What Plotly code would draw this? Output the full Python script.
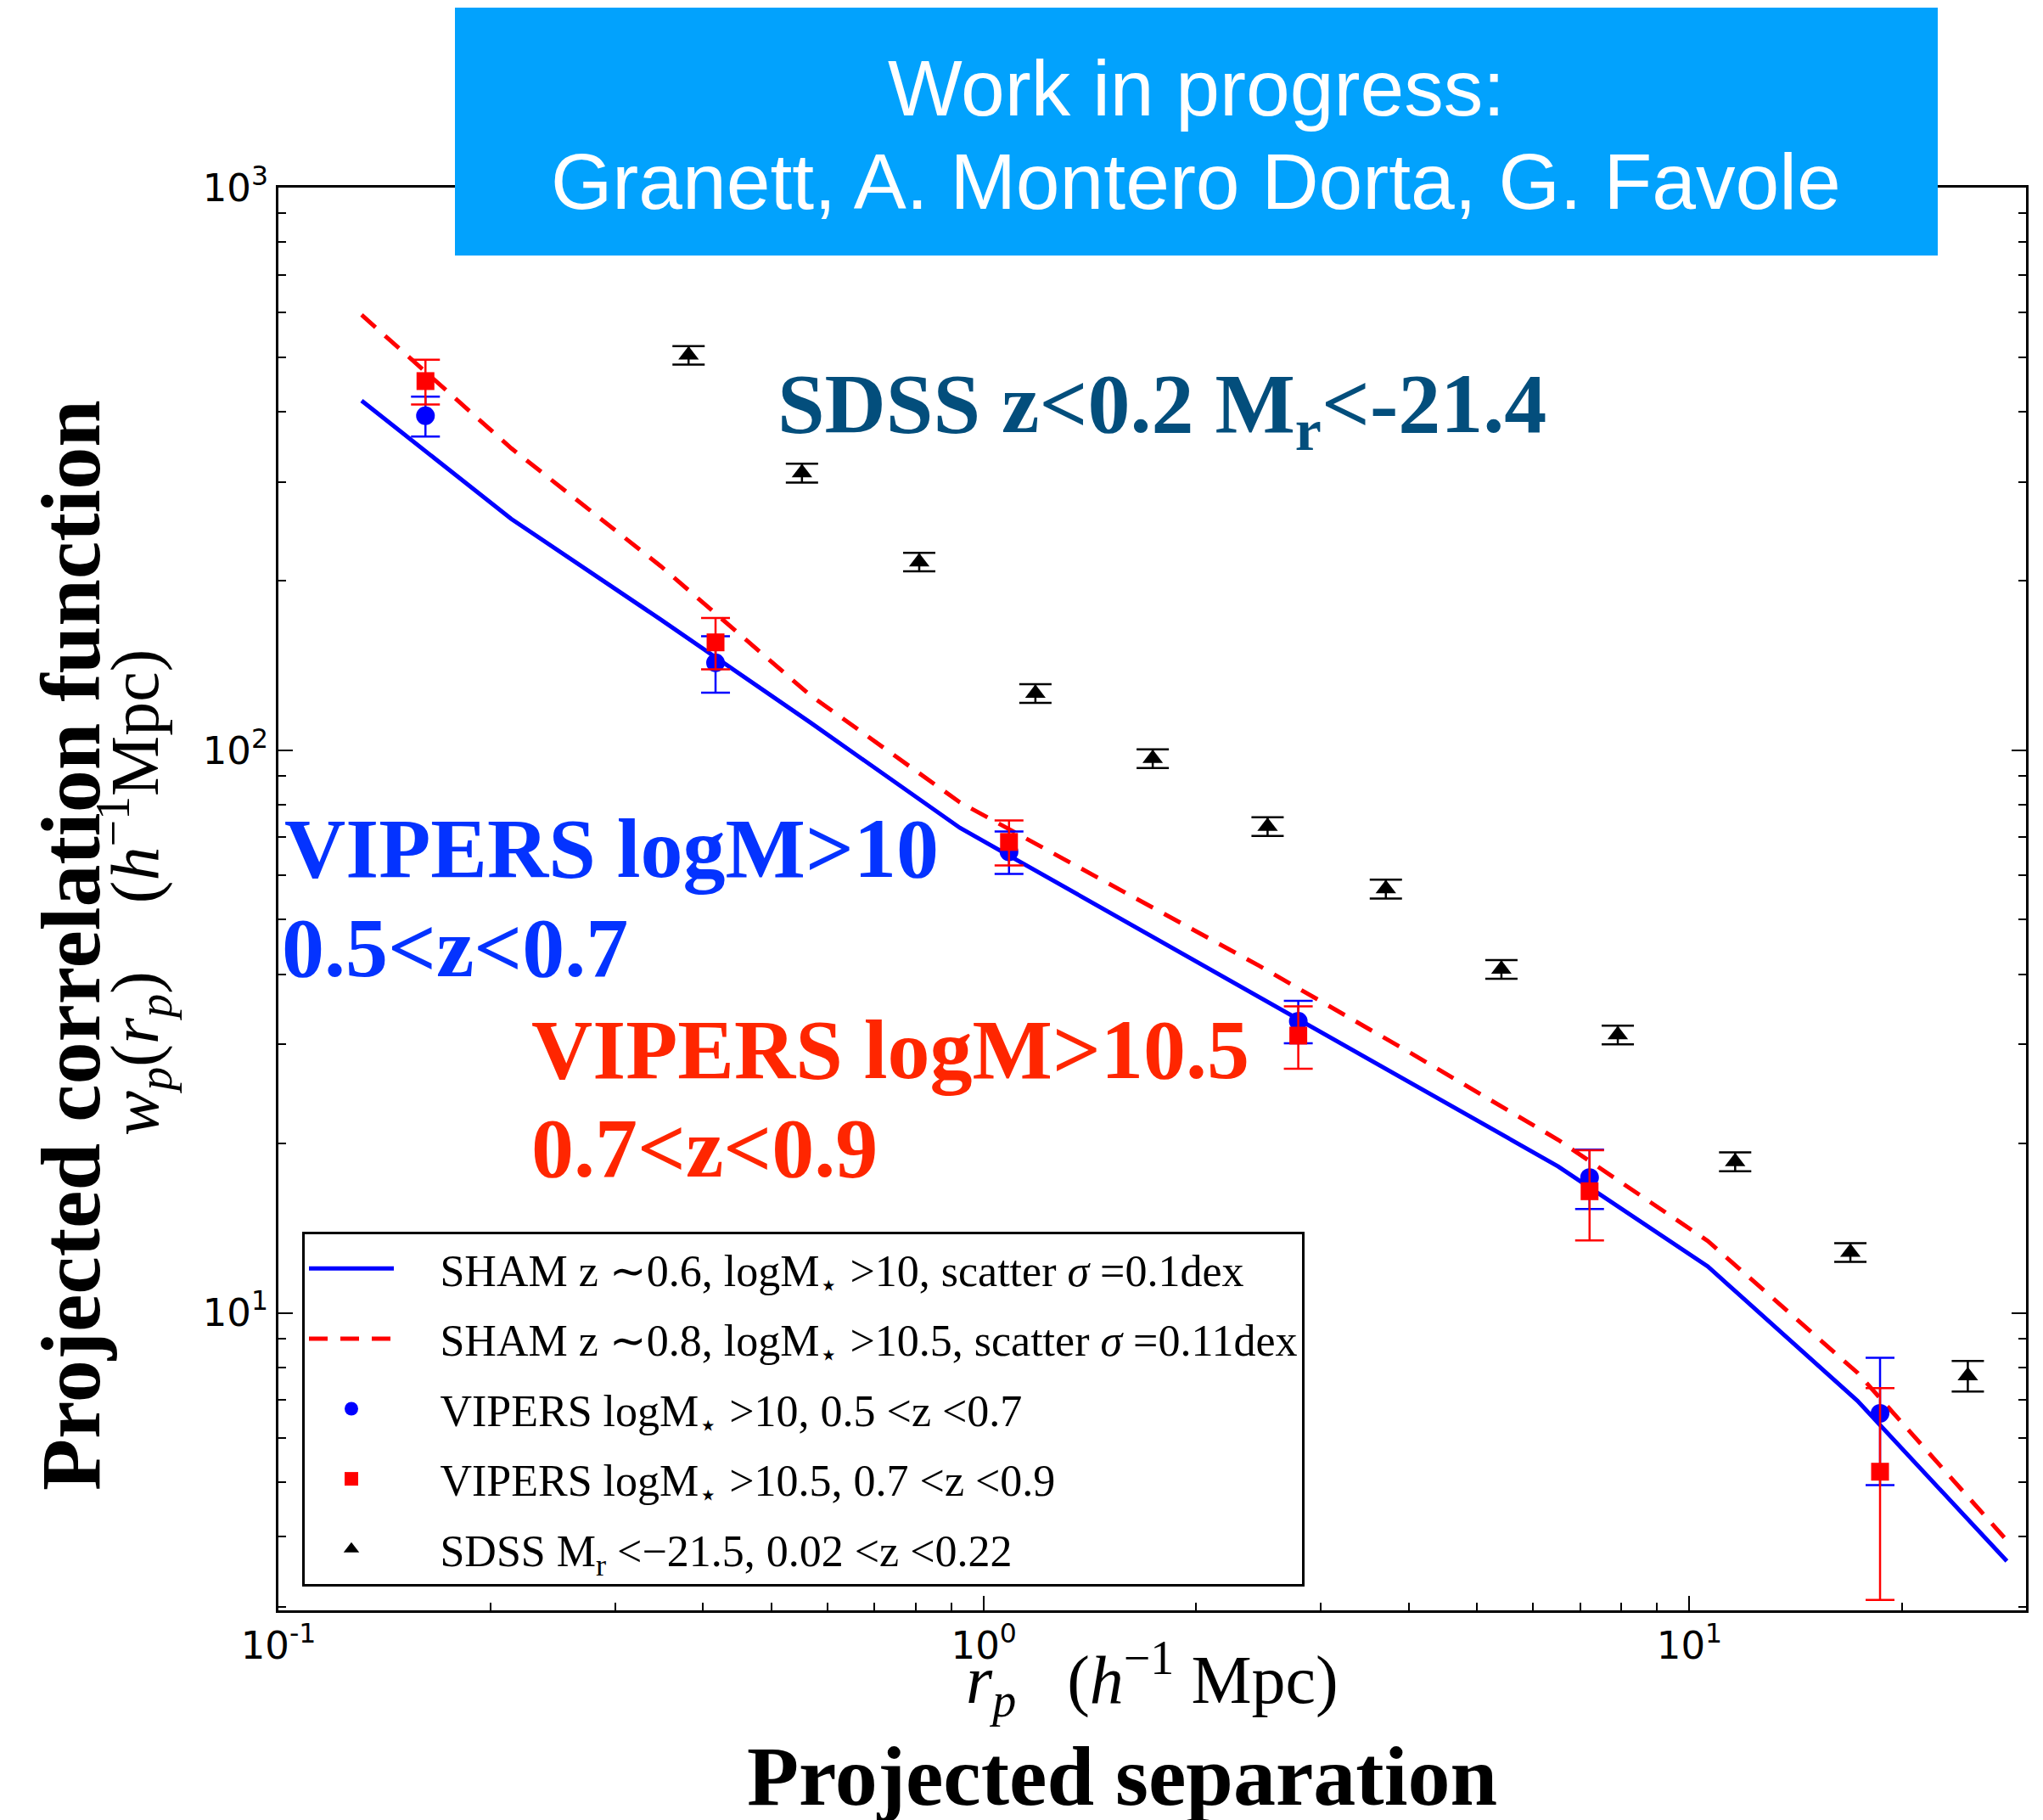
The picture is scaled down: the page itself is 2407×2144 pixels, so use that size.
import math
import plotly.graph_objects as go

# ---------------- data ----------------
sdss_rp = [0.3814, 0.5522, 0.8097, 1.183, 1.735, 2.524, 3.713, 5.414, 7.916, 11.61, 16.91, 24.81]
sdss_wp = [503.8, 311.1, 216.1, 126.2, 96.7, 73.2, 56.7, 40.8, 31.2, 18.57, 12.81, 7.73]
sdss_err = [19, 12, 8.2, 4.8, 3.7, 2.8, 2.2, 1.55, 1.2, 0.71, 0.49, 0.48]

vipers_rp = [0.1616, 0.4165, 1.0854, 2.790, 7.219, 18.63]
vipers10_wp = [393, 143, 66.0, 33.0, 17.4, 6.63]
vipers10_err = [32, 16.5, 5.7, 2.85, 2.1, 1.69]
vipers105_wp = [453, 155.5, 68.7, 31.1, 16.45, 5.22]
vipers105_err = [41.5, 16.3, 6.3, 3.95, 3.0, 2.13]

sham_rp = [0.1312, 0.2138, 0.3483, 0.5675, 0.9247, 1.507, 2.455, 4.0, 6.516, 10.62, 17.3, 28.18]
sham06_wp = [418.1, 257.8, 170.7, 112.0, 72.8, 51.5, 36.4, 25.8, 18.21, 12.09, 6.98, 3.62]
sham08_wp = [593.9, 344.2, 212.4, 125.2, 80.8, 57.9, 41.4, 29.1, 20.3, 13.42, 7.83, 3.94]

x_major = [0.1, 1, 10]
x_major_text = ["10<sup>-1</sup>", "10<sup>0</sup>", "10<sup>1</sup>"]
y_major = [10, 100, 1000]
y_major_text = ["10<sup>1</sup>", "10<sup>2</sup>", "10<sup>3</sup>"]
x_minor = [0.2, 0.3, 0.4, 0.5, 0.6, 0.7, 0.8, 0.9, 2, 3, 4, 5, 6, 7, 8, 9, 20]
y_minor = [3, 4, 5, 6, 7, 8, 9, 20, 30, 40, 50, 60, 70, 80, 90, 200, 300, 400, 500, 600, 700, 800, 900]

IND = "\u00a0\u00a0\u00a0\u2009"
legend_names = [
    IND + "SHAM z \u223c0.6, logM<sub>\u22c6</sub> &gt;10, scatter <i>\u03c3</i> =0.1dex",
    IND + "SHAM z \u223c0.8, logM<sub>\u22c6</sub> &gt;10.5, scatter <i>\u03c3</i> =0.11dex",
    IND + "VIPERS logM<sub>\u22c6</sub> &gt;10, 0.5 &lt;z &lt;0.7",
    IND + "VIPERS logM<sub>\u22c6</sub> &gt;10.5, 0.7 &lt;z &lt;0.9",
    IND + "SDSS M<sub>r</sub> &lt;\u221221.5, 0.02 &lt;z &lt;0.22",
]

# ---------------- layout geometry (pixels) ----------------
W, H = 2407, 2144
PL, PR, PT, PB = 328, 2387, 221, 1897


def px(x):
    return (x - PL) / (PR - PL)


def py(y):
    return (PB - y) / (PB - PT)


SERIF = "Liberation Serif"

fig = go.Figure()

fig.add_trace(go.Scatter(x=sham_rp, y=sham06_wp, mode="lines",
                         line=dict(color="#0000FF", width=5),
                         name=legend_names[0], legendgroup="g1"))
fig.add_trace(go.Scatter(x=sham_rp, y=sham08_wp, mode="lines",
                         line=dict(color="#FF0000", width=5, dash="22px,15px"),
                         name=legend_names[1], legendgroup="g2"))
fig.add_trace(go.Scatter(x=vipers_rp, y=vipers10_wp, mode="markers",
                         marker=dict(symbol="circle", size=22, color="#0000FF"),
                         error_y=dict(type="data", array=vipers10_err, color="#0000FF",
                                      thickness=2.5, width=17),
                         name=legend_names[2], legendgroup="g3"))
fig.add_trace(go.Scatter(x=vipers_rp, y=vipers105_wp, mode="markers",
                         marker=dict(symbol="square", size=21, color="#FF0000"),
                         error_y=dict(type="data", array=vipers105_err, color="#FF0000",
                                      thickness=2.5, width=17),
                         name=legend_names[3], legendgroup="g4"))
fig.add_trace(go.Scatter(x=sdss_rp, y=sdss_wp, mode="markers",
                         marker=dict(symbol="triangle-up", size=21, color="black"),
                         error_y=dict(type="data", array=sdss_err, color="black",
                                      thickness=2.5, width=19),
                         name=legend_names[4], legendgroup="g5"))

axis_common = dict(
    type="log", showline=True, linecolor="black", linewidth=3, mirror="ticks",
    ticks="inside", ticklen=17, tickwidth=2, tickcolor="black",
    showgrid=False, zeroline=False,
    tickfont=dict(family="DejaVu Sans", size=45, color="black"),
)

fig.update_xaxes(**axis_common, range=[-1, math.log10(30)],
                 tickmode="array", tickvals=x_major, ticktext=x_major_text,
                 minor=dict(ticks="inside", ticklen=9, tickwidth=2, tickcolor="black",
                            tickmode="array", tickvals=x_minor, showgrid=False))
fig.update_yaxes(**axis_common, range=[math.log10(2.96), 3],
                 tickmode="array", tickvals=y_major, ticktext=y_major_text,
                 minor=dict(ticks="inside", ticklen=9, tickwidth=2, tickcolor="black",
                            tickmode="array", tickvals=y_minor, showgrid=False))

annotations = []


def add_text(text, x, y, size, color="black", family=SERIF, xanchor="left",
             yanchor="middle", angle=0):
    annotations.append(dict(text=text, x=px(x), y=py(y), xref="paper", yref="paper",
                            showarrow=False, xanchor=xanchor, yanchor=yanchor,
                            textangle=angle,
                            font=dict(family=family, size=size, color=color)))


# banner text
add_text("Work in progress:", 1409, 104, 93, color="white",
         family="Liberation Sans", xanchor="center")
add_text("Granett, A. Montero Dorta, G. Favole", 1409, 214, 93, color="white",
         family="Liberation Sans", xanchor="center")

# in-plot labels
add_text("<b>SDSS z&lt;0.2 M<sub>r</sub>&lt;-21.4</b>", 914, 482, 100, color="#034E7C")
add_text("<b>VIPERS logM&gt;10</b>", 333, 999, 100, color="#0433FF")
add_text("<b>0.5&lt;z&lt;0.7</b>", 330, 1116, 100, color="#0433FF")
add_text("<b>VIPERS logM&gt;10.5</b>", 624, 1236, 100, color="#FF2600")
add_text("<b>0.7&lt;z&lt;0.9</b>", 624, 1352, 100, color="#FF2600")

# axis titles
add_text("<i>r</i><sub><i>p</i></sub>\u00a0\u00a0\u00a0(<i>h</i><sup>\u22121</sup> Mpc)",
         1357, 1978, 80, xanchor="center")
add_text("<b>Projected separation</b>", 1322, 2092, 100, xanchor="center")
add_text("<b>Projected correlation function</b>", 83, 1114, 100, xanchor="center",
         angle=-90)
add_text("<i>w</i><sub><i>p</i></sub>(<i>r</i><sub><i>p</i></sub>)\u00a0\u00a0\u00a0\u00a0(<i>h</i><sup>\u22121</sup>Mpc)",
         158, 1052, 80, xanchor="center", angle=-90)

shapes = [dict(type="rect", xref="paper", yref="paper",
               x0=px(536), x1=px(2283), y0=py(9), y1=py(301),
               fillcolor="#02A2FD", line=dict(width=0), layer="above")]

fig.update_layout(
    width=W, height=H,
    margin=dict(l=PL, r=W - PR, t=PT, b=H - PB, autoexpand=False),
    paper_bgcolor="white", plot_bgcolor="white",
    showlegend=True,
    legend=dict(x=px(356), y=py(1451), xanchor="left", yanchor="top",
                bordercolor="black", borderwidth=3, bgcolor="white",
                font=dict(family=SERIF, size=52, color="black"),
                tracegroupgap=12, itemwidth=100),
    annotations=annotations,
    shapes=shapes,
)

fig.write_html("out.html")
